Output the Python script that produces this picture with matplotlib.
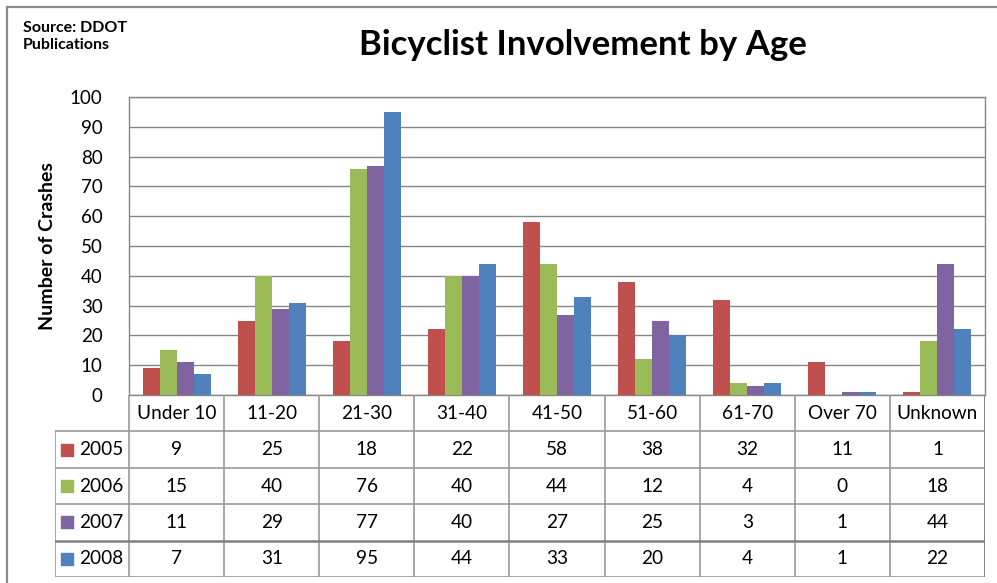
import matplotlib
matplotlib.use("Agg")
import matplotlib.pyplot as plt
from matplotlib.patches import Rectangle
import numpy as np

plt.rcParams["font.family"] = ["Lato", "DejaVu Sans"]

categories = ["Under 10", "11-20", "21-30", "31-40", "41-50", "51-60", "61-70", "Over 70", "Unknown"]
years = ["2005", "2006", "2007", "2008"]
crashes_2005 = [9, 25, 18, 22, 58, 38, 32, 11, 1]
crashes_2006 = [15, 40, 76, 40, 44, 12, 4, 0, 18]
crashes_2007 = [11, 29, 77, 40, 27, 25, 3, 1, 44]
crashes_2008 = [7, 31, 95, 44, 33, 20, 4, 1, 22]
series = [crashes_2005, crashes_2006, crashes_2007, crashes_2008]
colors = ["#C0504D", "#9BBB59", "#8064A2", "#4F81BD"]
yticks = list(range(0, 101, 10))

W, H = 997, 583
grid_col = "#868686"


def px(l, t, r, b):
    return [l / W, 1 - b / H, (r - l) / W, (b - t) / H]


fig = plt.figure(figsize=(W / 100, H / 100), dpi=100)

# outer chart border
fig.patches.append(Rectangle((7 / W, -0.02), 1.0, 1 - 7 / H + 0.02,
                             transform=fig.transFigure, fill=False,
                             edgecolor="#8a8a8a", linewidth=1.6))

ax = fig.add_axes(px(129, 97, 985, 395))
n = len(categories)
x = np.arange(n)
bw = 0.179
for k, vals in enumerate(series):
    ax.bar(x + (k - 1.5) * bw, vals, width=bw, color=colors[k], zorder=3)

ax.set_xlim(-0.5, n - 0.5)
ax.set_ylim(0, 100)
ax.set_yticks(yticks)
ax.set_xticks([])
ax.yaxis.grid(True, color=grid_col, linewidth=1, zorder=0)
ax.tick_params(axis="y", length=0, pad=19, labelsize=13.5)
for s in ax.spines.values():
    s.set_color(grid_col)
    s.set_linewidth(1)
ax.set_ylabel("Number of Crashes", fontsize=14, fontweight="bold")
ax.yaxis.set_label_coords(-0.085, 0.5)

# data table under the plot
tax = fig.add_axes(px(55, 395, 985, 577))
left = -0.5 - 74 / (856 / n)
tax.set_xlim(left, n - 0.5)
tax.set_ylim(5, 0)
tax.axis("off")
lc = "#9a9a9a"
for i in range(n + 1):
    tax.plot([i - 0.5, i - 0.5], [0, 5], color=lc, lw=1.2)
tax.plot([left, left], [1, 5], color=lc, lw=1.2)
for r in range(1, 6):
    lw = 1.8 if r == 4 else 1.2
    c = "#808080" if r == 4 else lc
    tax.plot([left, n - 0.5], [r, r], color=c, lw=lw)
tax.plot([n - 0.5, n - 0.5], [0, 5], color="#808080", lw=2)

for i, cat in enumerate(categories):
    tax.text(i, 0.5, cat, ha="center", va="center", fontsize=13.7)
for k, vals in enumerate(series):
    yy = k + 1.5
    tax.scatter([left + 0.13], [yy], marker="s", s=70, color=colors[k],
                clip_on=False)
    tax.text(left + 0.25, yy, years[k], ha="left", va="center", fontsize=13.7)
    for i, v in enumerate(vals):
        tax.text(i, yy, str(v), ha="center", va="center", fontsize=13.7)

fig.text(583 / W, 1 - 45 / H, "Bicyclist Involvement by Age", ha="center",
         va="center", fontsize=25, fontweight="bold")
fig.text(23 / W, 1 - 21 / H, "Source: DDOT\nPublications", ha="left",
         va="top", fontsize=11.5, fontweight="bold", linespacing=1.25)

fig.savefig("out.png", dpi=100)
